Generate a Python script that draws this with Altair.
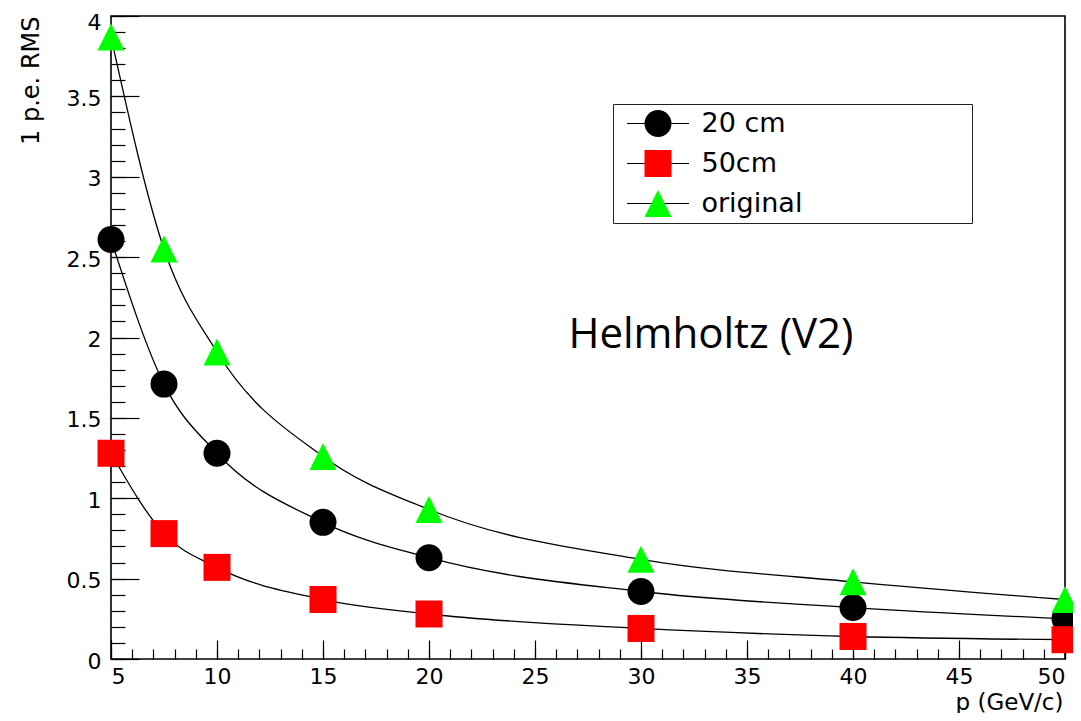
import altair as alt
import pandas as pd

# ---- data ----
p_values = [5, 7.5, 10, 15, 20, 30, 40, 50]
rms_20cm = [2.61, 1.71, 1.28, 0.85, 0.63, 0.42, 0.32, 0.25]
rms_50cm = [1.28, 0.78, 0.57, 0.37, 0.28, 0.19, 0.14, 0.12]
rms_original = [3.87, 2.55, 1.91, 1.26, 0.93, 0.62, 0.48, 0.37]

series_names = ["20 cm", "50cm", "original"]
series_colors = ["#000000", "#ff0000", "#00ff00"]
series_shapes = ["circle", "square", "M0,-1L1,1L-1,1Z"]
legend_line = "M-2.3,-0.045H2.3V0.045H-2.3Z"

x_major = [5, 10, 15, 20, 25, 30, 35, 40, 45, 50]
x_minor = list(range(5, 51))
y_major = [0, 0.5, 1, 1.5, 2, 2.5, 3, 3.5, 4]
y_minor = [round(i * 0.1, 1) for i in range(41)]

note_text = ["Helmholtz (V2)"]
note_x = [33.3]
note_y = [1.935]

rows = []
for name, vals in zip(series_names, [rms_20cm, rms_50cm, rms_original]):
    for xv, yv in zip(p_values, vals):
        rows.append({"p": xv, "rms": yv, "series": name})
df = pd.DataFrame(rows)
note_df = pd.DataFrame({"text": note_text, "x": note_x, "y": note_y})

W, H = 954, 643
FONT = "DejaVu Sans"
xs = alt.Scale(domain=[5, 50], nice=False, zero=False)
ys = alt.Scale(domain=[0, 4], nice=False, zero=True)

x_lab = alt.Axis(orient="bottom", values=x_major, ticks=False, domain=False, grid=False,
                 labelFont=FONT, labelFontSize=22, labelPadding=7, labelColor="black",
                 title="p (GeV/c)", titleFont=FONT, titleFontSize=23, titleFontWeight="normal",
                 titleColor="black", titleX=952, titleY=50, titleAlign="right",
                 titleBaseline="alphabetic")
y_lab = alt.Axis(orient="left", values=y_major, format="~g", ticks=False, domain=False, grid=False,
                 labelFont=FONT, labelFontSize=22, labelPadding=10, labelColor="black",
                 labelOffset={"condition": {"test": "datum.value >= 4", "value": 6}, "value": 2},
                 title="1 p.e. RMS", titleFont=FONT, titleFontSize=24, titleFontWeight="normal",
                 titleColor="black", titleX=-73, titleY=0, titleAlign="right",
                 titleBaseline="alphabetic", titleAngle=270)
x_maj = alt.Axis(orient="bottom", values=x_major, labels=False, domain=False, grid=False,
                 title=None, tickSize=19, offset=-19, tickColor="black", tickWidth=1.2)
y_maj = alt.Axis(orient="left", values=y_major, labels=False, domain=False, grid=False,
                 title=None, tickSize=28, offset=-28, tickColor="black", tickWidth=1.2)
x_min = alt.Axis(orient="bottom", values=x_minor, labels=False, domain=False, grid=False,
                 title=None, tickSize=10, offset=-10, tickColor="black", tickWidth=1.2)
y_min = alt.Axis(orient="left", values=y_minor, labels=False, domain=False, grid=False,
                 title=None, tickSize=14, offset=-14, tickColor="black", tickWidth=1.2)

base = alt.Chart(df)

lines = base.mark_line(color="black", strokeWidth=1.3, interpolate="monotone").encode(
    x=alt.X("p:Q", scale=xs, axis=x_lab),
    y=alt.Y("rms:Q", scale=ys, axis=y_lab),
    detail="series:N",
)

point_layers = []
for i, (name, col, shp) in enumerate(zip(series_names, series_colors, series_shapes)):
    ax_x = x_maj if i == 0 else None
    ax_y = y_maj if i == 0 else None
    point_layers.append(
        base.transform_filter(alt.datum.series == name).mark_point(
            filled=True, size=729, opacity=1, strokeWidth=0, color=col, shape=shp
        ).encode(
            x=alt.X("p:Q", scale=xs, axis=ax_x),
            y=alt.Y("rms:Q", scale=ys, axis=ax_y),
        )
    )

note = alt.Chart(note_df).mark_text(font="Open Sans", fontSize=42, align="center",
                                    baseline="alphabetic", color="black").encode(
    x=alt.X("x:Q", scale=xs, axis=x_min),
    y=alt.Y("y:Q", scale=ys, axis=y_min),
    text="text:N",
)

# shared legend layout so the two legends stack exactly
common = dict(orient="none", legendX=502, legendY=88, title=None, padding=6,
              symbolSize=729, symbolOffset=25.5, symbolOpacity=1, symbolStrokeWidth=0,
              labelFont=FONT, labelFontSize=27, labelColor="black", labelOffset=30,
              labelLimit=600, rowPadding=12)

pad = "\u00a0" * 19 + "\u200b"
leg_lines = alt.Legend(strokeColor="#222222", fillColor="white", zindex=0,
                       labelExpr="datum.label + '" + pad + "'", **common)
leg_marks = alt.Legend(zindex=1, labelExpr="''", **common)

legend_lines_layer = base.transform_filter("false").mark_point(
    filled=True, color="black", strokeWidth=0).encode(
    shape=alt.Shape("series:N", scale=alt.Scale(domain=series_names, range=[legend_line] * 3),
                    legend=leg_lines),
)

legend_marks_layer = base.transform_filter("false").mark_point(
    filled=True, strokeWidth=0).encode(
    color=alt.Color("series:N", scale=alt.Scale(domain=series_names, range=series_colors),
                    legend=leg_marks),
    shape=alt.Shape("series:N", scale=alt.Scale(domain=series_names, range=series_shapes),
                    legend=leg_marks),
)

chart = alt.layer(lines, *point_layers, note, legend_lines_layer, legend_marks_layer).resolve_axis(
    x="independent", y="independent"
).resolve_scale(shape="independent").resolve_legend(
    shape="independent", color="independent"
).properties(
    width=W, height=H,
    autosize=alt.AutoSizeParams(type="none"),
    padding={"left": 103, "top": 8, "right": 8, "bottom": 54},
    background="white",
).configure_view(stroke="black", strokeWidth=1.6)

chart.save("out.html", embed_options={"renderer": "svg", "actions": False})
